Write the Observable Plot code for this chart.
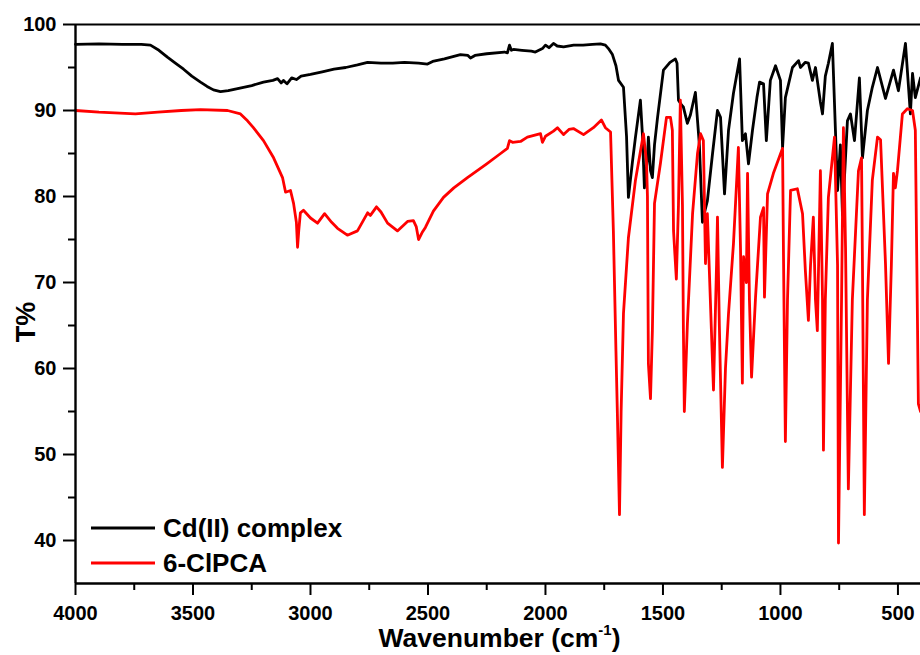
<!DOCTYPE html>
<html>
<head>
<meta charset="utf-8">
<script src="https://cdn.jsdelivr.net/npm/d3@7"></script>
<script src="https://cdn.jsdelivr.net/npm/@observablehq/plot@0.6"></script>
<style>
  html, body { margin: 0; padding: 0; background: #fff; }
  #chart { width: 920px; height: 655px; }
</style>
</head>
<body>
<div id="chart"></div>
<script>
// ---- Data ----
const seriesNames = ["Cd(II) complex", "6-ClPCA"];
const seriesColors = ["#000000", "#ff0000"];

const cdWavenumber = [
  4000,3900,3800,3720,3681,3645,3609,3575,3540,3505,
  3468,3440,3413,3383,3350,3300,3250,3200,3160,3140,
  3125,3115,3100,3080,3060,3040,3000,2950,2900,2850,
  2800,2757,2700,2650,2600,2540,2502,2480,2430,2362,
  2330,2319,2300,2250,2175,2162,2153,2145,2136,2100,
  2060,2043,2013,2000,1985,1966,1950,1923,1880,1840,
  1800,1766,1745,1732,1715,1700,1689,1668,1655,1647,
  1630,1617,1596,1587,1579,1566,1562,1553,1545,1536,
  1523,1498,1470,1447,1440,1434,1420,1413,1396,1383,
  1362,1345,1332,1320,1311,1289,1268,1255,1238,1221,
  1200,1174,1162,1149,1136,1119,1100,1089,1072,1060,
  1043,1021,1000,991,979,949,923,915,894,881,
  864,851,830,821,809,796,779,766,757,745,
  736,715,702,685,664,651,630,609,587,553,
  519,498,468,447,438,426,404
];
const cdTransmittance = [
  97.7,97.75,97.7,97.7,97.6,97.0,96.2,95.5,94.8,94.0,
  93.3,92.8,92.4,92.2,92.3,92.6,92.9,93.3,93.5,93.7,
  93.2,93.5,93.1,93.8,93.6,94.0,94.2,94.5,94.8,95.0,
  95.3,95.6,95.5,95.5,95.6,95.5,95.4,95.7,96.0,96.5,
  96.4,96.1,96.4,96.6,96.8,96.7,97.6,97.0,97.1,97.0,
  96.9,96.8,97.2,97.6,97.3,97.8,97.5,97.4,97.6,97.6,
  97.7,97.75,97.6,97.2,96.5,95.2,93.5,92.7,87.0,79.9,
  84.0,86.9,91.2,87.0,81.0,84.5,86.9,83.0,82.2,86.0,
  89.2,94.7,95.6,96.0,95.5,91.2,90.6,90.4,88.5,89.5,
  92.1,86.0,77.0,78.5,79.5,85.0,90.0,89.2,80.3,87.7,
  92.0,96.0,86.5,87.3,83.8,87.7,91.5,93.3,93.1,86.5,
  93.5,95.2,93.5,85.7,91.5,95.0,95.8,95.0,95.6,95.5,
  93.5,95.0,91.0,89.6,94.0,95.5,97.8,87.7,80.7,86.0,
  77.8,88.8,89.6,86.5,93.8,84.5,90.0,92.7,95.0,91.4,
  94.7,92.3,97.8,89.6,94.3,91.5,93.8
];

const pcaWavenumber = [
  4000,3900,3745,3650,3550,3468,3353,3298,3268,3243,
  3200,3157,3119,3106,3085,3072,3060,3055,3050,3043,
  3030,3000,2970,2940,2910,2885,2843,2800,2757,2745,
  2719,2700,2672,2630,2587,2562,2550,2540,2525,2511,
  2477,2434,2390,2332,2250,2191,2162,2153,2140,2106,
  2077,2021,2013,2000,1966,1949,1923,1900,1881,1838,
  1796,1762,1745,1732,1723,1711,1700,1694,1685,1678,
  1668,1647,1617,1583,1570,1566,1562,1553,1545,1536,
  1511,1485,1468,1460,1455,1443,1434,1426,1417,1413,
  1409,1396,1374,1353,1340,1328,1319,1311,1289,1285,
  1272,1268,1260,1247,1234,1221,1200,1179,1170,1162,
  1157,1145,1140,1132,1123,1106,1085,1072,1068,1055,
  1030,991,987,979,970,957,928,906,894,881,
  872,860,851,843,830,821,817,809,796,770,
  757,753,740,732,723,711,694,668,655,651,
  643,630,609,587,574,553,540,528,519,511,
  502,481,460,438,426,413,404
];
const pcaTransmittance = [
  90.0,89.8,89.6,89.8,90.0,90.1,90.0,89.6,88.8,88.0,
  86.5,84.5,82.2,80.5,80.7,79.2,77.0,74.1,76.0,78.1,
  78.4,77.5,76.9,78.0,77.0,76.3,75.5,76.0,78.1,77.8,
  78.8,78.2,76.9,76.0,77.1,77.2,76.5,75.0,75.8,76.4,
  78.3,79.9,81.0,82.2,83.8,85.0,85.6,86.5,86.3,86.4,
  86.9,87.3,86.3,87.0,87.6,88.0,87.2,87.8,87.9,87.2,
  88.0,88.9,88.0,87.7,87.5,76.0,62.0,54.8,43.0,55.0,
  66.4,75.2,81.9,87.3,84.0,80.0,60.6,56.5,64.4,79.2,
  83.8,89.2,89.2,87.7,76.0,70.4,79.0,91.2,79.0,64.4,
  55.0,65.2,78.0,85.0,87.3,86.5,72.2,78.0,60.6,57.5,
  72.0,77.6,65.0,48.5,60.0,66.4,74.5,85.7,74.0,58.3,
  73.0,70.0,82.7,68.0,59.0,68.3,77.6,78.7,68.3,80.3,
  82.7,85.6,73.0,51.5,68.0,80.7,80.9,78.0,71.4,65.6,
  72.0,77.6,68.0,64.4,83.0,68.0,50.5,68.0,79.9,86.9,
  72.0,39.7,68.0,88.0,74.0,46.0,68.0,83.0,84.5,72.0,
  43.0,68.0,81.9,86.9,86.6,72.2,60.6,72.0,82.7,81.0,
  83.0,89.6,90.2,90.0,87.7,55.9,55.0
];

const xMajorTicks = [4000, 3500, 3000, 2500, 2000, 1500, 1000, 500];
const xMinorTicks = [3750, 3250, 2750, 2250, 1750, 1250, 750];
const yMajorTicks = [40, 50, 60, 70, 80, 90, 100];
const yMinorTicks = [45, 55, 65, 75, 85, 95];
const xTitle = ["Wavenumber (cm", "-1", ")"];
const yTitle = "T%";

// ---- Build table ----
const rows = [
  ...cdWavenumber.map((w, i) => ({w, t: cdTransmittance[i], s: seriesNames[0]})),
  ...pcaWavenumber.map((w, i) => ({w, t: pcaTransmittance[i], s: seriesNames[1]}))
];

const FONT = '"Liberation Sans", Arial, Helvetica, sans-serif';

const chart = Plot.plot({
  width: 920,
  height: 655,
  marginLeft: 75,
  marginRight: 0,
  marginTop: 24,
  marginBottom: 72,
  style: {fontFamily: FONT, fontSize: "20px", fontWeight: "bold", color: "#000", background: "#fff", overflow: "visible"},
  x: {domain: [4000, 404], label: null},
  y: {domain: [35, 100], label: null},
  color: {domain: seriesNames, range: seriesColors},
  marks: [
    Plot.line(rows, {x: "w", y: "t", z: "s", stroke: "s", strokeWidth: 2.8, strokeLinejoin: "round"}),
    Plot.axisX({ticks: xMajorTicks, tickSize: 12, tickPadding: 10, strokeWidth: 2, tickFormat: d => String(d), label: null}),
    Plot.axisX({ticks: xMinorTicks, tickSize: 7, strokeWidth: 2, text: null, label: null}),
    Plot.axisY({ticks: yMajorTicks, tickSize: 12, tickPadding: 7, strokeWidth: 2, tickFormat: d => String(d), label: null}),
    Plot.axisY({ticks: yMinorTicks, tickSize: 7, strokeWidth: 2, text: null, label: null}),
    Plot.ruleX([4000], {strokeWidth: 2.4}),
    Plot.ruleY([35], {strokeWidth: 2.4}),
    Plot.ruleY([100], {strokeWidth: 2.2})
  ]
});

document.getElementById("chart").appendChild(chart);

// ---- Axis titles & legend ----
const svg = d3.select(chart);
const xs = chart.scale("x"), ys = chart.scale("y");
const midX = (xs.range[0] + xs.range[1]) / 2;

const xt = svg.append("text")
  .attr("x", midX + 2).attr("y", 647)
  .attr("text-anchor", "middle")
  .style("font-family", FONT).style("font-weight", "bold").style("font-size", "26.5px")
  .attr("fill", "#000");
xt.append("tspan").text(xTitle[0]);
xt.append("tspan").attr("dy", -12).style("font-size", "15px").text(xTitle[1]);
xt.append("tspan").attr("dy", 12).text(xTitle[2]);

svg.append("text")
  .attr("transform", "translate(35, 322) rotate(-90)")
  .attr("text-anchor", "middle")
  .style("font-family", FONT).style("font-weight", "bold").style("font-size", "27px")
  .attr("fill", "#000")
  .text(yTitle);

const legend = svg.append("g").attr("transform", "translate(91, 528)");
seriesNames.forEach((name, i) => {
  const g = legend.append("g").attr("transform", `translate(0, ${i * 35})`);
  g.append("line").attr("x1", 0).attr("x2", 64).attr("y1", 0).attr("y2", 0)
    .attr("stroke", seriesColors[i]).attr("stroke-width", 3);
  g.append("text").attr("x", 72).attr("y", 9)
    .attr("text-anchor", "start")
    .style("font-family", FONT).style("font-weight", "bold").style("font-size", "26px")
    .attr("fill", "#000").text(name);
});
</script>
</body>
</html>
